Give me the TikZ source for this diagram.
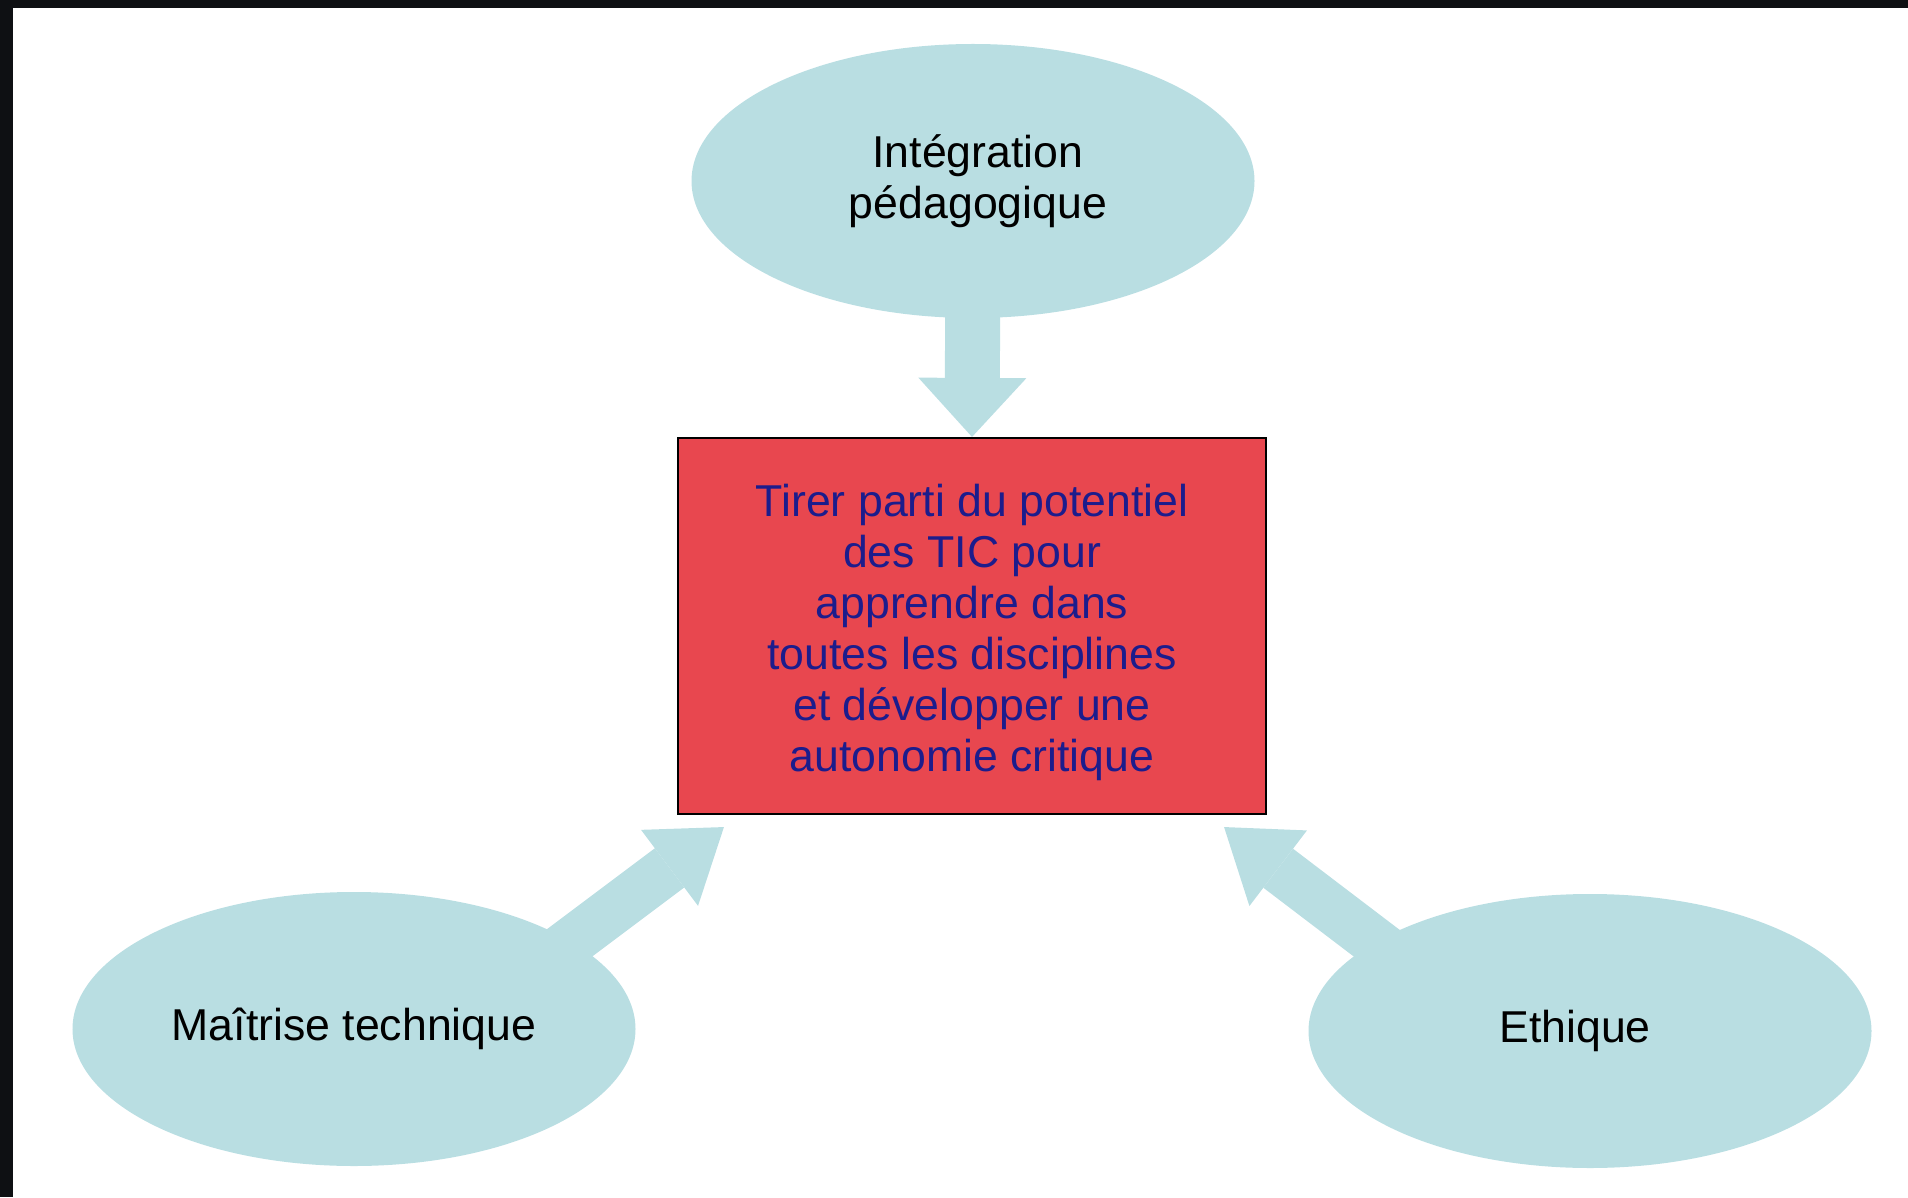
\documentclass[tikz,border=0pt]{standalone}
\usepackage{fontspec}
\setmainfont{Liberation Sans}
\usetikzlibrary{shapes.geometric,arrows.meta,calc,backgrounds}
\definecolor{bleuclair}{RGB}{185,222,226}
\definecolor{rouge}{RGB}{232,71,79}
\definecolor{marine}{RGB}{28,28,140}
\definecolor{cadre}{RGB}{14,16,19}
\begin{document}
\begin{tikzpicture}[font=\fontsize{12.7}{14.5}\selectfont,
    ovale/.style={ellipse,fill=bleuclair,minimum width=5.63cm,minimum height=2.74cm,inner sep=0pt,align=center},
    fleche/.style={draw=bleuclair,line width=0.49cm,-{Triangle[width=0.95cm,length=0.68cm,line width=0pt]}}]
      \useasboundingbox (0,0) rectangle (19.08,11.97);
      \fill[cadre] (0,11.89) rectangle (19.08,11.97);
      \fill[cadre] (0,0) rectangle (0.13,11.97);
      \node[ovale] (integ) at (9.73,10.16) {\hspace*{0.1cm}Intégration\\\hspace*{0.1cm}pédagogique};
      \node[draw,line width=0.6pt,fill=rouge,text=marine,minimum width=5.88cm,minimum height=3.76cm,align=center] (objectif) at (9.72,5.71)
        {\rule{0pt}{0.45cm}Tirer parti du potentiel\\des TIC pour\\apprendre dans\\toutes les disciplines\\et développer une\\autonomie critique};
      \node[ovale] (maitrise) at (3.54,1.68) {Maîtrise technique};
      \node[ovale] (ethique) at (15.90,1.66) {Ethique\hspace*{0.3cm}};
      \begin{scope}[on background layer]
      \draw[fleche,line width=0.55cm,-{Triangle[width=1.08cm,length=0.59cm,line width=0pt]}] ($(integ.center)+(0,-0.79)$) -- (objectif.north);
      \draw[fleche] ($(maitrise.center)+(1.82,0.61)$) -- ($(objectif.south west)+(0.47,-0.12)$);
      \draw[fleche] ($(ethique.center)+(-1.82,0.64)$) -- ($(objectif.south east)+(-0.43,-0.12)$);
      \end{scope}
    \end{tikzpicture}
\end{document}
